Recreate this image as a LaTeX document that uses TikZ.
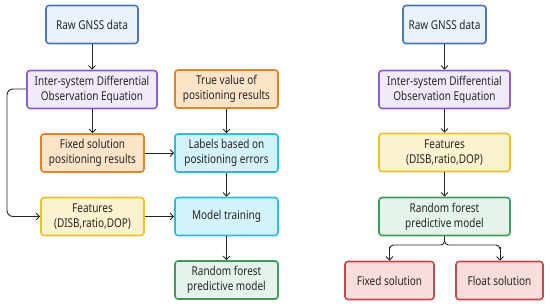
\documentclass[tikz,border=0pt]{standalone}
\usepackage{fontspec}
\setmainfont{Noto Sans}[FakeStretch=0.82]
\usetikzlibrary{arrows.meta}
\definecolor{bluD}{HTML}{4A78B5}\definecolor{bluF}{HTML}{EAF2FC}
\definecolor{purD}{HTML}{8B5FC9}\definecolor{purF}{HTML}{F1EAFB}
\definecolor{oraD}{HTML}{E0832A}\definecolor{oraF}{HTML}{FDE3C8}
\definecolor{cyaD}{HTML}{33B9D9}\definecolor{cyaF}{HTML}{D4F2FA}
\definecolor{yelD}{HTML}{EBC12C}\definecolor{yelF}{HTML}{FDF2CF}
\definecolor{grnD}{HTML}{3F9A5C}\definecolor{grnF}{HTML}{E4F4E8}
\definecolor{redD}{HTML}{C4474C}\definecolor{redF}{HTML}{F9DCDC}
\begin{document}
\begin{tikzpicture}[x=1pt,y=-1pt,
  box/.style={draw,line width=1.6pt,rounded corners=3pt,align=center,
    font=\fontsize{12.2}{14.8}\selectfont,inner sep=0pt,text=black!85,
    minimum height=38pt},
  bl/.style={box,draw=bluD,fill=bluF},
  pu/.style={box,draw=purD,fill=purF},
  or/.style={box,draw=oraD,fill=oraF},
  cy/.style={box,draw=cyaD,fill=cyaF},
  ye/.style={box,draw=yelD,fill=yelF},
  gr/.style={box,draw=grnD,fill=grnF},
  rd/.style={box,draw=redD,fill=redF},
  arr/.style={-{Straight Barb[length=3.5pt,width=7pt]},line width=0.9pt,black!85},
  ln/.style={line width=0.9pt,black!85}]
\useasboundingbox (0,0) rectangle (550,306);
% left
\node[bl,minimum width=92pt] (raw1) at (92,24.5) {Raw GNSS data};
\node[pu,minimum width=130pt] (ise1) at (92,89.5) {Inter-system Differential\\Observation Equation};
\node[or,minimum width=103pt] (true1) at (226.5,89) {True value of\\positioning results};
\node[or,minimum width=103pt] (fix1) at (92.5,153) {Fixed solution\\positioning results};
\node[cy,minimum width=103pt] (lab1) at (226.5,153) {Labels based on\\positioning errors};
\node[ye,minimum width=103pt] (feat1) at (92.5,216.5) {Features\\(DISB,ratio,DOP)};
\node[cy,minimum width=103pt] (mt1) at (226.5,216.5) {Model training};
\node[gr,minimum width=103pt] (rf1) at (226.5,280) {Random forest\\predictive model};
\draw[arr] (raw1) -- (ise1);
\draw[arr] (ise1.south -| fix1.north) -- (fix1.north);
\draw[arr] (true1) -- (lab1);
\draw[arr] (fix1) -- (lab1);
\draw[arr] (lab1) -- (mt1);
\draw[arr] (feat1) -- (mt1);
\draw[arr] (mt1) -- (rf1);
\coordinate (fbA) at (7,89);
\coordinate (fbB) at (7,216.5);
\draw[arr,rounded corners=6pt] (ise1.west |- fbA) -- (fbA) -- (fbB) -- (feat1.west);
% right
\node[bl,minimum width=83pt] (raw2) at (444.5,24.5) {Raw GNSS data};
\node[pu,minimum width=131pt] (ise2) at (444.5,89.5) {Inter-system Differential\\Observation Equation};
\node[ye,minimum width=131pt] (feat2) at (444.5,152.5) {Features\\(DISB,ratio,DOP)};
\node[gr,minimum width=131pt] (rf2) at (444.5,216.5) {Random forest\\predictive model};
\node[rd,minimum width=89pt] (fixs) at (389.5,280.5) {Fixed solution};
\node[rd,minimum width=87pt] (flt) at (499.5,280.5) {Float solution};
\draw[arr] (raw2) -- (ise2);
\draw[arr] (ise2) -- (feat2);
\draw[arr] (feat2) -- (rf2);
\coordinate (brL) at (389.5,245);
\coordinate (brR) at (500,245);
\coordinate (brC) at (444.5,245);
\draw[ln,rounded corners=4pt] (rf2.south) -- (brC) -- (brL) -- ++(0,4);
\draw[ln,rounded corners=4pt] (rf2.south) -- (brC) -- (brR) -- ++(0,4);
\draw[arr] (389.5,247) -- (fixs.north);
\draw[arr] (500,247) -- (flt.north -| brR);
\end{tikzpicture}
\end{document}
